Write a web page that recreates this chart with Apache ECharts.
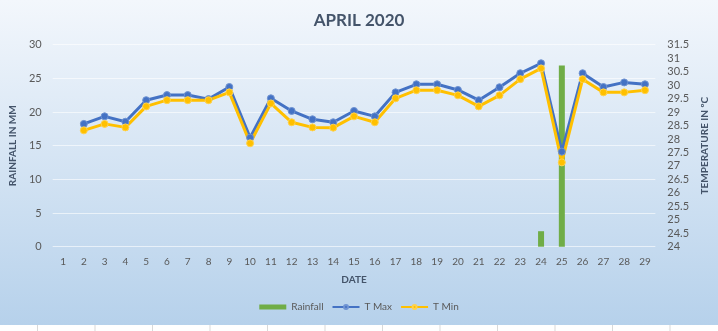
<!DOCTYPE html>
<html>
<head>
<meta charset="utf-8">
<script src="https://cdn.jsdelivr.net/npm/echarts@6/dist/echarts.min.js"></script>
<style>
html,body{margin:0;padding:0;background:#fff;}
#c{width:718px;height:331px;}
</style>
</head>
<body>
<div id="c"></div>
<script>
var days = ['1','2','3','4','5','6','7','8','9','10','11','12','13','14','15','16','17','18','19','20','21','22','23','24','25','26','27','28','29'];
var rainfall = [null,null,null,null,null,null,null,null,null,null,null,null,null,null,null,null,null,null,null,null,null,null,null,2.3,26.9,null,null,null,null];
var tMax = [null,28.56,28.84,28.64,29.44,29.63,29.63,29.48,29.93,28.05,29.51,29.04,28.73,28.62,29.04,28.84,29.73,30.03,30.03,29.82,29.44,29.92,30.44,30.81,27.53,30.44,29.93,30.10,30.03];
var tMin = [null,28.32,28.56,28.43,29.21,29.44,29.44,29.44,29.73,27.84,29.32,28.62,28.43,28.42,28.84,28.62,29.51,29.81,29.81,29.62,29.21,29.62,30.22,30.62,27.13,30.22,29.73,29.73,29.81];
var rainTicks = {min:0, max:30, interval:5};
var tempTicks = {min:24, max:31.5, interval:0.5};

var chart = echarts.init(document.getElementById('c'), null, {renderer:'canvas'});
var font = 'Lato, "Open Sans", sans-serif';
var bottomTicks = [];
for (var i = 0; i < 12; i++) {
  bottomTicks.push({type:'line', shape:{x1:37.5+i*57.5, y1:325, x2:37.5+i*57.5, y2:331}, style:{stroke:'#d9d9d9', lineWidth:1}, z:100});
}
chart.setOption({
  animation:false,
  backgroundColor:'#ffffff',
  graphic:[
    {type:'rect', shape:{x:0,y:0,width:718,height:325}, z:-10,
      style:{fill:new echarts.graphic.LinearGradient(0,0,0,1,[{offset:0,color:'#f3f7fc'},{offset:1,color:'#b6d1eb'}])}}
  ].concat(bottomTicks),
  title:{text:'APRIL 2020', left:'center', top:7,
    textStyle:{fontFamily:font, fontSize:17, fontWeight:'bold', color:'#44546a'}},
  legend:{
    bottom:14, left:'center', itemGap:8, itemWidth:27, itemHeight:5,
    textStyle:{fontFamily:font, fontSize:10, color:'#595959'},
    data:[{name:'Rainfall', icon:'rect'},{name:'T Max'},{name:'T Min'}]
  },
  grid:{left:50, right:57, top:44.7, bottom:84.3},
  xAxis:{
    type:'category', data:days, boundaryGap:true,
    name:'DATE', nameLocation:'middle', nameGap:28,
    nameTextStyle:{fontFamily:font, fontSize:10, fontWeight:'bold', color:'#44546a'},
    axisLine:{show:false}, axisTick:{show:false},
    axisLabel:{fontFamily:font, fontSize:10, color:'#595959', margin:10}
  },
  yAxis:[
    {type:'value', min:rainTicks.min, max:rainTicks.max, interval:rainTicks.interval,
      name:'RAINFALL IN MM', nameLocation:'middle', nameGap:25, nameRotate:90,
      nameTextStyle:{fontFamily:font, fontSize:10, fontWeight:'bold', color:'#44546a'},
      axisLine:{show:false}, axisTick:{show:false},
      axisLabel:{fontFamily:font, fontSize:11, color:'#595959', margin:11},
      splitLine:{lineStyle:{color:'rgba(255,255,255,0.6)', width:1}}},
    {type:'value', min:tempTicks.min, max:tempTicks.max, interval:tempTicks.interval,
      name:'TEMPERATURE IN ºC', nameLocation:'middle', nameGap:32, nameRotate:90,
      nameTextStyle:{fontFamily:font, fontSize:10, fontWeight:'bold', color:'#44546a'},
      axisLine:{show:false}, axisTick:{show:false},
      axisLabel:{fontFamily:font, fontSize:11, color:'#595959', margin:12},
      splitLine:{show:false}}
  ],
  series:[
    {name:'Rainfall', type:'bar', yAxisIndex:0, data:rainfall, barWidth:6,
      itemStyle:{color:'#70ad47'}},
    {name:'T Max', type:'line', yAxisIndex:1, data:tMax, symbol:'circle', symbolSize:7,
      lineStyle:{color:'#4472c4', width:3}, itemStyle:{color:'#4472c4', borderColor:'#6f93d2', borderWidth:1}},
    {name:'T Min', type:'line', yAxisIndex:1, data:tMin, symbol:'circle', symbolSize:7,
      lineStyle:{color:'#ffc000', width:3}, itemStyle:{color:'#ffc000', borderColor:'#ffd24d', borderWidth:1}}
  ]
});
</script>
</body>
</html>
